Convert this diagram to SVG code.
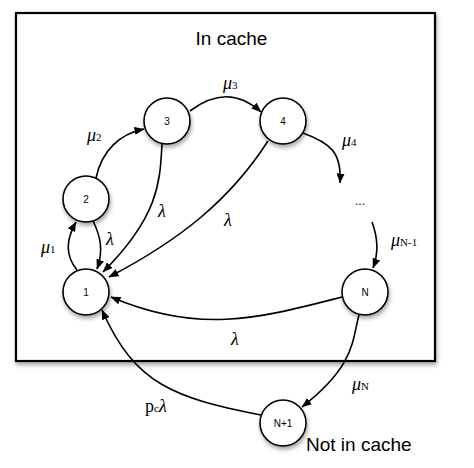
<svg xmlns="http://www.w3.org/2000/svg" width="474" height="468" viewBox="0 0 474 468">
<style>
.node circle{fill:#fff;stroke:#000;stroke-width:1.6;filter:url(#sh)}
.node text{font-family:"Liberation Sans",Arial,sans-serif;font-size:10px;text-anchor:middle;dominant-baseline:central}
.edges path{fill:none;stroke:#000;stroke-width:1.6;marker-end:url(#ah)}
.lbl{font-family:"Liberation Serif","Times New Roman",serif;font-style:italic;font-size:18px}
.sub{font-style:normal;font-size:11px}
.big{font-family:"Liberation Sans",Arial,sans-serif;font-size:19px}
</style>
<defs>
<filter id="sh" x="-20%" y="-20%" width="150%" height="150%">
<feDropShadow dx="1" dy="3" stdDeviation="2" flood-color="#000" flood-opacity="0.35"/>
</filter>
<marker id="ah" viewBox="0 0 10 8" refX="9.5" refY="4" markerWidth="10" markerHeight="8" markerUnits="userSpaceOnUse" orient="auto">
<path d="M0,0 L10,4 L0,8 Z" fill="#000"/>
</marker>
</defs>
<rect x="0" y="0" width="474" height="468" fill="#fff"/>
<rect id="cache-box" x="16" y="13" width="419" height="348" fill="#fff" stroke="#000" stroke-width="2.2" filter="url(#sh)"/>
<text class="big" x="231.5" y="45" text-anchor="middle">In cache</text>
<text class="big" x="306" y="451">Not in cache</text>
<g class="edges" id="connectors">
<path d="M96 178 C102 150 120 134 144 129"/>
<path d="M190 111 Q228 82 261 112"/>
<path d="M303 133 C330 143 342 152 340 183"/>
<path d="M372 222 C378 238 378 255 373 268"/>
<path d="M77 270 C65 255 66 240 76 222"/>
<path d="M93 221 C100 235 104 250 97 269"/>
<path d="M162 144 C160 180 160 215 103 272"/>
<path d="M268 141 C230 200 180 240 109 277"/>
<path d="M342 297 C260 318 200 335 111 297"/>
<path d="M359 315 C352 340 356 365 302 407"/>
<path d="M261 415 C175 398 135 385 102 310"/>
</g>
<g class="node" id="n1"><circle cx="86" cy="292" r="23"/><text x="86" y="292">1</text></g>
<g class="node" id="n2"><circle cx="86" cy="199" r="23"/><text x="86" y="199">2</text></g>
<g class="node" id="n3"><circle cx="167" cy="121" r="23"/><text x="167" y="121">3</text></g>
<g class="node" id="n4"><circle cx="283" cy="121" r="23"/><text x="283" y="121">4</text></g>
<g class="node" id="nN"><circle cx="365" cy="292" r="23"/><text x="365" y="292">N</text></g>
<g class="node" id="nN1"><circle cx="283" cy="423" r="23"/><text x="283" y="423">N+1</text></g>
<text x="360" y="205" font-family="Liberation Sans,Arial,sans-serif" font-size="12" text-anchor="middle">...</text>
<g id="labels">
<text class="lbl" x="223" y="89">μ<tspan class="sub">3</tspan></text>
<text class="lbl" x="87" y="141">μ<tspan class="sub">2</tspan></text>
<text class="lbl" x="342" y="146">μ<tspan class="sub">4</tspan></text>
<text class="lbl" x="41" y="253">μ<tspan class="sub">1</tspan></text>
<text class="lbl" x="391" y="246">μ<tspan class="sub">N-1</tspan></text>
<text class="lbl" x="352" y="390">μ<tspan class="sub">N</tspan></text>
<text class="lbl" x="106" y="245">λ</text>
<text class="lbl" x="158" y="217">λ</text>
<text class="lbl" x="224" y="226">λ</text>
<text class="lbl" x="231" y="345">λ</text>
<text class="lbl" x="145" y="412"><tspan font-style="normal">p</tspan><tspan class="sub">c</tspan>λ</text>
</g>
</svg>
